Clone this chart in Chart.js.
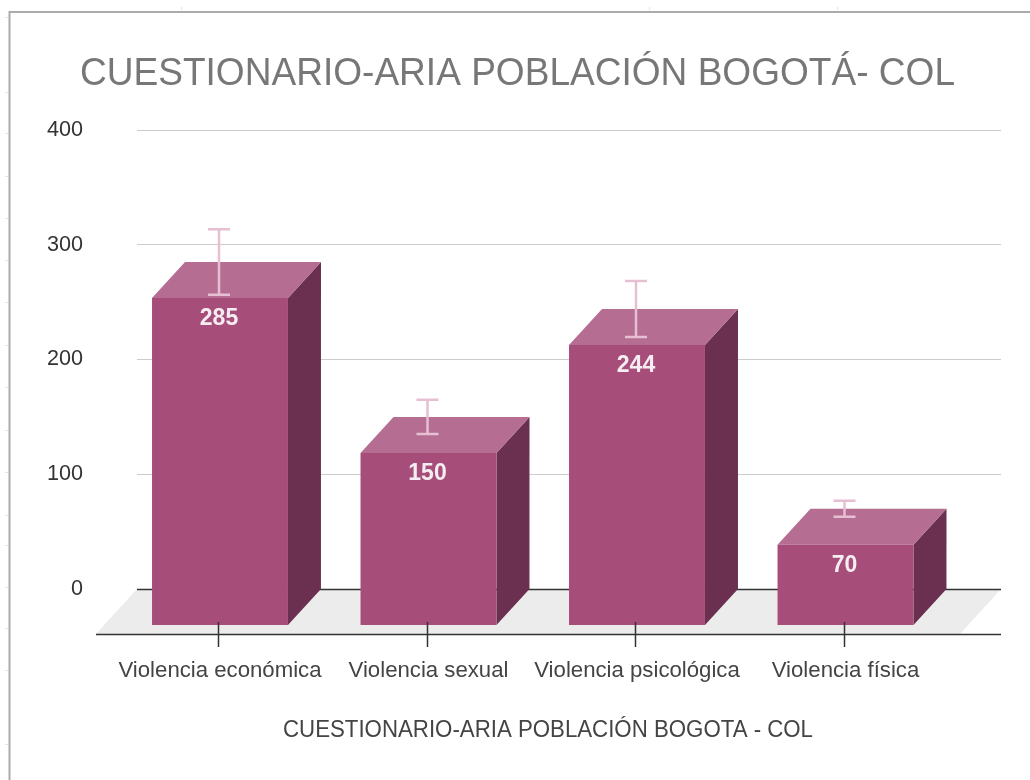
<!DOCTYPE html>
<html lang="es">
<head>
<meta charset="utf-8">
<title>Cuestionario-ARIA</title>
<style>html,body{margin:0;padding:0;background:#fff}canvas{display:block}</style>
<script src="https://cdn.jsdelivr.net/npm/chart.js@4"></script>
</head>
<body>
<canvas id="c" width="1030" height="780"></canvas>
<script>
const categories = ["Violencia económica", "Violencia sexual", "Violencia psicológica", "Violencia física"];
const values = [285, 150, 244, 70];
const errors = [28.5, 15, 24.4, 7];
const yTicks = [0, 100, 200, 300, 400];
const chartTitle = "CUESTIONARIO-ARIA POBLACIÓN BOGOTÁ- COL";
const axisTitle = "CUESTIONARIO-ARIA POBLACIÓN BOGOTA - COL";

const DX = 33, DY = -36;
const FRONT = "#a64d79", TOP = "#b56d91", SIDE = "#6b3050", ERR = "#e6bfd3";
const FONT = "'Liberation Sans'";

const scene = {
  id: "scene",
  afterLayout(chart) {
    chart.titleBlock.left = 80;
    chart.titleBlock.right = 955;
  },
  beforeDraw(chart) {
    const c = chart.ctx;
    c.save();
    c.fillStyle = "#fff";
    c.fillRect(0, 0, 1030, 780);
    c.strokeStyle = "#ababab";
    c.lineWidth = 2;
    c.beginPath();
    c.moveTo(9.5, 780); c.lineTo(9.5, 12); c.lineTo(1030, 12);
    c.stroke();
    c.strokeStyle = "#e4e4e4";
    c.lineWidth = 1;
    c.beginPath();
    [17, 92, 133, 176, 218, 260, 302, 345, 387, 430, 472, 515, 545, 587, 628, 670, 744].forEach(y => {
      c.moveTo(5, y + .5); c.lineTo(8, y + .5);
    });
    [181, 649, 837].forEach(x => {
      c.moveTo(x + .5, 7); c.lineTo(x + .5, 10);
    });
    c.stroke();
    c.restore();
  },
  beforeDatasetsDraw(chart) {
    const c = chart.ctx, yb = chart.scales.yBack, base = chart.chartArea.bottom;
    const y0 = yb.getPixelForValue(0);
    c.save();
    c.fillStyle = "#ececec";
    c.beginPath();
    c.moveTo(137, y0); c.lineTo(1001, y0); c.lineTo(960, base); c.lineTo(96, base);
    c.closePath();
    c.fill();
    yTicks.forEach(v => {
      const y = Math.floor(yb.getPixelForValue(v)) + .5;
      c.strokeStyle = v === 0 ? "#333" : "#ccc";
      c.lineWidth = v === 0 ? 1.5 : 1;
      c.beginPath(); c.moveTo(137, y); c.lineTo(1001, y); c.stroke();
    });
    chart.getDatasetMeta(0).data.forEach(b => {
      const l = b.x - b.width / 2, r = b.x + b.width / 2, t = b.y, bt = b.base;
      c.fillStyle = SIDE;
      c.beginPath();
      c.moveTo(r, t); c.lineTo(r + DX, t + DY); c.lineTo(r + DX, bt + DY); c.lineTo(r, bt);
      c.closePath(); c.fill();
      c.fillStyle = TOP;
      c.beginPath();
      c.moveTo(l, t); c.lineTo(l + DX, t + DY); c.lineTo(r + DX, t + DY); c.lineTo(r, t);
      c.closePath(); c.fill();
    });
    c.restore();
  },
  afterDatasetsDraw(chart) {
    const c = chart.ctx, yb = chart.scales.yBack, xs = chart.scales.x, base = chart.chartArea.bottom;
    c.save();
    chart.getDatasetMeta(0).data.forEach((b, i) => {
      const hi = yb.getPixelForValue(values[i] + errors[i]);
      const lo = yb.getPixelForValue(values[i] - errors[i]);
      c.strokeStyle = ERR;
      c.lineWidth = 2.5;
      c.beginPath();
      c.moveTo(b.x - 1, hi); c.lineTo(b.x - 1, lo);
      c.moveTo(b.x - 12, hi); c.lineTo(b.x + 10, hi);
      c.moveTo(b.x - 12, lo); c.lineTo(b.x + 10, lo);
      c.stroke();
      c.fillStyle = "#f6edf2";
      c.font = "bold 23px " + FONT;
      c.textAlign = "center";
      c.textBaseline = "middle";
      c.fillText(String(values[i]), b.x - 1, b.y + 21);
    });
    c.strokeStyle = "#333";
    c.lineWidth = 1.5;
    c.beginPath();
    c.moveTo(96, base + .5); c.lineTo(1001, base + .5);
    categories.forEach((_, i) => {
      const x = Math.round(xs.getPixelForTick(i)) - 1.5;
      c.moveTo(x, base - 12); c.lineTo(x, base + 13);
    });
    c.stroke();
    c.fillStyle = "#444";
    c.font = "23px " + FONT;
    c.textAlign = "center";
    c.textBaseline = "middle";
    c.fillText(axisTitle, 548, 731, 530);
    c.restore();
  }
};

new Chart(document.getElementById("c"), {
  type: "bar",
  plugins: [scene],
  data: {
    labels: categories,
    datasets: [{
      data: values,
      yAxisID: "y",
      backgroundColor: FRONT,
      borderWidth: 0,
      barPercentage: 0.652,
      categoryPercentage: 1
    }]
  },
  options: {
    responsive: false,
    animation: false,
    layout: { padding: { left: 30, right: 80.25, top: 0, bottom: 0 } },
    plugins: {
      legend: { display: false },
      tooltip: { enabled: false },
      title: {
        display: true,
        text: chartTitle,
        color: "#777777",
        font: { family: FONT, size: 39, weight: "normal", lineHeight: 1.2 },
        padding: { top: 50.6, bottom: 32.6 }
      }
    },
    scales: {
      x: {
        type: "category",
        offset: true,
        grid: { display: false },
        border: { display: false },
        afterFit(s) { s.height = 146; },
        ticks: {
          autoSkip: false, maxRotation: 0, minRotation: 0, padding: 16,
          color: "#444", font: { family: FONT, size: 22.2 }
        }
      },
      y: { display: false, min: -7.84, max: 431.4 },
      yBack: {
        position: "left",
        min: -39.2,
        max: 400,
        grid: { display: false },
        border: { display: false },
        afterFit(s) { s.width = 85.75; },
        afterBuildTicks(s) { s.ticks = yTicks.map(v => ({ value: v })); },
        ticks: {
          padding: 24.75,
          color: "#333",
          font: { family: FONT, size: 21.6 }
        }
      }
    }
  }
});
</script>
</body>
</html>
